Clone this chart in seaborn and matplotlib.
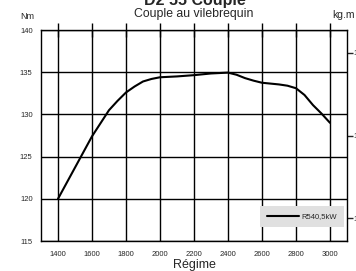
import matplotlib
matplotlib.use("Agg")
import matplotlib.pyplot as plt
import seaborn as sns
import pandas as pd

# data
regime = [1400, 1500, 1600, 1650, 1700, 1750, 1800, 1850, 1900, 1950, 2000, 2100, 2200, 2300,
          2400, 2450, 2500, 2550, 2600, 2700, 2750, 2800, 2850, 2900, 2950, 3000]
couple = [120.0, 123.7, 127.4, 128.95, 130.5, 131.6, 132.6, 133.3, 133.9, 134.2, 134.4, 134.5,
          134.65, 134.85, 134.95, 134.7, 134.3, 134.0, 133.75, 133.55, 133.4, 133.1, 132.3,
          131.1, 130.1, 129.0]
series_name = "R540,5kW"
x_ticks = [1400, 1600, 1800, 2000, 2200, 2400, 2600, 2800, 3000]
y_ticks = [115, 120, 125, 130, 135, 140]
kgm_ticks = [12, 13, 14]

df = pd.DataFrame({"Régime": regime, "Couple": couple, "serie": series_name})

sns.set_style("white")
plt.rcParams["font.family"] = ["Liberation Sans", "DejaVu Sans"]

fig = plt.figure(figsize=(3.56, 2.71), dpi=100)
ax = fig.add_axes([41 / 356, 1 - 241 / 271, 306 / 356, 211 / 271])

sns.lineplot(data=df, x="Régime", y="Couple", hue="serie", palette=["black"],
             linewidth=1.5, ax=ax)
ax.lines[0].set_solid_joinstyle("round")

ax.set_xlim(1300, 3100)
ax.set_ylim(115, 140)
ax.set_xticks(x_ticks)
ax.set_yticks(y_ticks)
ax.grid(True, color="black", linewidth=1)
for s in ax.spines.values():
    s.set_color("black")
    s.set_linewidth(1)

ax.tick_params(axis="x", direction="inout", length=10, width=1, top=True,
               labeltop=False, labelsize=5.5, pad=2, color="black")
ax.tick_params(axis="y", direction="out", length=5, width=1, labelsize=5.5,
               pad=1, color="black")
ax.set_xlabel("Régime", fontsize=9, labelpad=1)
ax.set_ylabel("")

sec = ax.secondary_yaxis("right", functions=(lambda v: v / 9.80665, lambda v: v * 9.80665))
sec.set_yticks(kgm_ticks)
sec.tick_params(direction="out", length=4, width=1, labelsize=5.5, pad=0.5)
sec.spines["right"].set_visible(False)

leg = ax.legend(loc="lower right", bbox_to_anchor=(0.990, 0.066), borderaxespad=0,
                fontsize=5.5, handlelength=4.2, frameon=True, fancybox=False,
                facecolor="#e0e0e0", edgecolor="none", framealpha=1,
                borderpad=0.9, handletextpad=0.3)

fig.text(0.548, 1 - 5 / 271, "D2 55 Couple", ha="center", va="baseline",
         fontsize=11.5, fontweight="bold")
fig.text(0.545, 1 - 16.7 / 271, "Couple au vilebrequin", ha="center", va="baseline",
         fontsize=8.8)
fig.text(20 / 356, 1 - 19.3 / 271, "Nm", ha="left", va="baseline", fontsize=6.5)
fig.text(332 / 356, 1 - 18.5 / 271, "kg.m", ha="left", va="baseline", fontsize=7.5)

fig.savefig("out.png", dpi=100)
